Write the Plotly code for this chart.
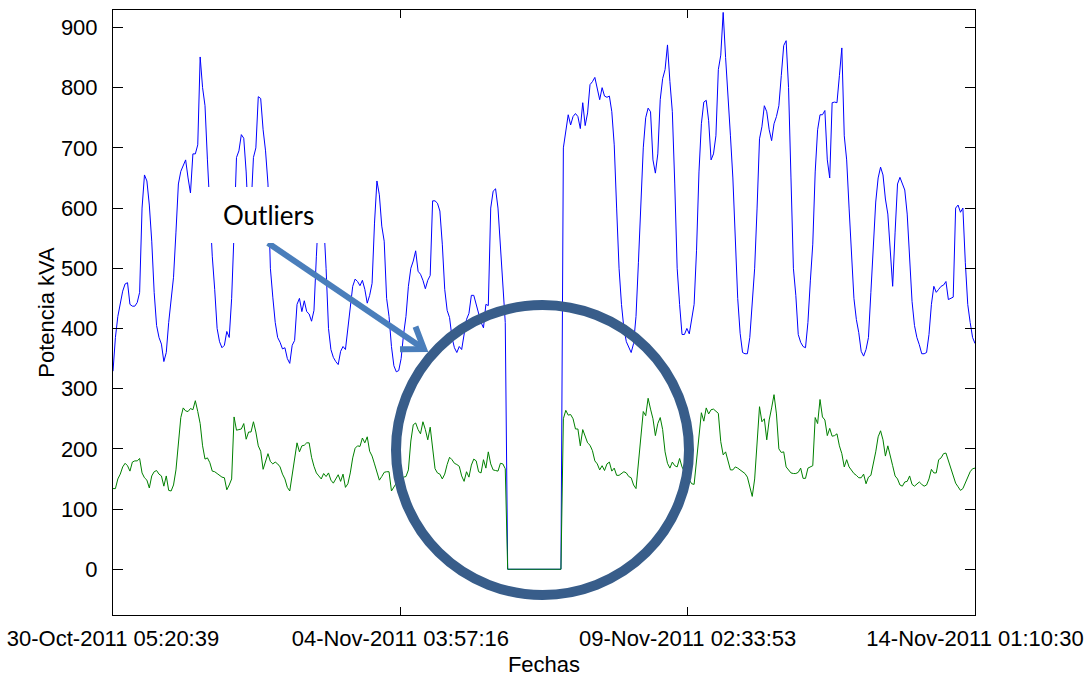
import math
import pandas as pd
import plotly.graph_objects as go

# Time span of the recording (hourly readings)
start_time = "2011-10-30 05:20:39"
end_time = "2011-11-14 01:10:30"

tick_times = ["2011-10-30 05:20:39", "2011-11-04 03:57:16",
              "2011-11-09 02:33:53", "2011-11-14 01:10:30"]
tick_labels = ["30-Oct-2011 05:20:39", "04-Nov-2011 03:57:16",
               "09-Nov-2011 02:33:53", "14-Nov-2011 01:10:30"]

y_ticks = [0, 100, 200, 300, 400, 500, 600, 700, 800, 900]

# Apparent power, blue feeder (kVA)
potencia_a = [
    329, 385, 420, 440, 462, 474, 476, 440, 437, 437,
    443, 460, 600, 655, 645, 605, 545, 460, 405, 385,
    374, 345, 360, 410, 445, 485, 560, 640, 661, 672,
    680, 650, 625, 690, 690, 705, 851, 800, 770, 680,
    590, 520, 465, 400, 378, 368, 372, 395, 385, 450,
    560, 684, 695, 722, 716, 660, 570, 600, 684, 700,
    785, 782, 730, 695, 640, 500, 452, 410, 385, 377,
    366, 368, 350, 342, 372, 380, 440, 450, 428, 446,
    428, 424, 412, 430, 520, 600, 615, 580, 500, 400,
    365, 352, 345, 340, 362, 370, 365, 400, 445, 470,
    482, 478, 471, 480, 465, 442, 455, 475, 575, 645,
    622, 570, 545, 450, 420, 370, 338, 328, 330, 350,
    390, 420, 470, 500, 512, 529, 495, 490, 480, 466,
    480, 488, 612, 612, 608, 595, 540, 465, 430, 418,
    385, 368, 360, 370, 365, 390, 415, 425, 455, 455,
    440, 425, 410, 401, 440, 438, 600, 628, 632, 600,
    530, 460, 410, 0, 0, 0, 0, 0, 0, 0,
    0, 0, 0, 0, 0, 0, 0, 0, 0, 0,
    0, 0, 0, 0, 0, 0, 700, 725, 755, 738,
    752, 757, 752, 732, 775, 737, 758, 805, 810, 817,
    800, 780, 800, 786, 784, 786, 760, 705, 600, 500,
    440, 400, 378, 368, 360, 375, 420, 510, 620, 700,
    750, 766, 760, 680, 658, 690, 780, 815, 830, 871,
    810, 760, 640, 500, 440, 390, 390, 400, 391, 420,
    440, 530, 660, 740, 776, 779, 745, 680, 690, 720,
    830, 854, 925, 850, 790, 720, 650, 540, 450, 392,
    360, 358, 358, 385, 440, 500, 600, 715, 735, 770,
    760, 730, 712, 740, 752, 770, 820, 870, 878, 800,
    650, 500, 455, 390, 377, 370, 368, 410, 479, 540,
    660, 730, 755, 755, 762, 680, 650, 775, 776, 775,
    820, 866, 720, 680, 600, 520, 450, 415, 393, 362,
    354, 365, 385, 460, 545, 610, 650, 668, 655, 615,
    590, 523, 470, 560, 640, 651, 640, 630, 590, 523,
    445, 405, 385, 373, 358, 358, 360, 390, 440, 470,
    460, 465, 470, 472, 478, 448, 450, 452, 600, 605,
    593, 600, 510, 440, 410, 385, 375,
]

# Apparent power, green feeder (kVA)
potencia_b = [
    134, 134, 150, 158, 170, 176, 172, 163, 178, 180,
    180, 184, 160, 152, 148, 135, 155, 162, 164, 158,
    155, 138, 155, 131, 130, 140, 165, 215, 252, 268,
    263, 262, 267, 265, 280, 262, 242, 205, 183, 185,
    177, 163, 162, 159, 156, 153, 152, 132, 140, 150,
    253, 231, 232, 233, 242, 216, 228, 228, 245, 228,
    205, 196, 166, 178, 192, 179, 175, 178, 175, 170,
    158, 150, 136, 130, 155, 178, 210, 195, 205, 206,
    210, 210, 186, 171, 160, 155, 150, 159, 154, 160,
    148, 143, 150, 157, 146, 158, 136, 142, 160, 185,
    201, 205, 204, 218, 210, 220, 196, 188, 175, 163,
    148, 154, 161, 162, 162, 130, 137, 143, 147, 150,
    153, 154, 165, 213, 240, 243, 232, 225, 245, 232,
    215, 236, 200, 167, 160, 158, 150, 158, 174, 186,
    182, 176, 174, 171, 155, 146, 162, 153, 173, 183,
    180, 162, 160, 182, 168, 195, 175, 165, 164, 163,
    176, 175, 167, 0, 0, 0, 0, 0, 0, 0,
    0, 0, 0, 0, 0, 0, 0, 0, 0, 0,
    0, 0, 0, 0, 0, 0, 250, 264, 256, 257,
    250, 233, 233, 205, 232, 222, 210, 206, 197, 180,
    175, 165, 172, 164, 175, 178, 163, 168, 156, 156,
    159, 162, 160, 154, 152, 140, 134, 180, 228, 262,
    255, 284, 266, 250, 222, 242, 252, 232, 195, 176,
    168, 178, 172, 170, 184, 170, 162, 156, 150, 142,
    141, 185, 225, 260, 246, 268, 258, 265, 266, 262,
    259, 212, 190, 195, 178, 165, 165, 170, 168, 165,
    162, 159, 153, 137, 121, 150, 210, 270, 245, 250,
    215, 248, 268, 290, 258, 200, 194, 195, 170, 164,
    160, 159, 159, 161, 168, 151, 151, 168, 170, 172,
    252, 242, 282, 253, 248, 222, 234, 221, 222, 225,
    205, 192, 170, 182, 170, 164, 159, 156, 152, 152,
    158, 142, 153, 156, 175, 195, 220, 230, 215, 188,
    205, 190, 172, 155, 150, 140, 138, 145, 146, 155,
    141, 138, 141, 145, 141, 138, 140, 150, 166, 160,
    160, 182, 185, 192, 193, 180, 168, 155, 143, 137,
    131, 134, 144, 153, 162, 167, 168,
]

assert len(potencia_a) == len(potencia_b)
fechas = pd.date_range(start_time, end_time, periods=len(potencia_a))

# Figure geometry (pixels)
W, H = 1087, 677
L, R, T, B = 113, 112, 10, 62
PW, PH = W - L - R, H - T - B


def fx(x):
    return (x - L) / PW


def fy(y):
    return (T + PH - y) / PH


fig = go.Figure()
fig.add_trace(go.Scatter(x=fechas, y=potencia_a, mode="lines",
                         line=dict(color="#0000FF", width=1)))
fig.add_trace(go.Scatter(x=fechas, y=potencia_b, mode="lines",
                         line=dict(color="#008000", width=1)))

font_main = "Liberation Sans, Arial, sans-serif"

fig.update_layout(
    width=W, height=H,
    margin=dict(l=L, r=R, t=T, b=B, autoexpand=False),
    paper_bgcolor="white", plot_bgcolor="white",
    showlegend=False,
    font=dict(family=font_main, size=22, color="black"),
    xaxis=dict(
        type="date", range=[start_time, end_time],
        tickmode="array", tickvals=tick_times, ticktext=tick_labels,
        ticks="inside", ticklen=8, tickwidth=1, tickcolor="black",
        showline=True, linecolor="black", linewidth=1, mirror="ticks",
        showgrid=False, zeroline=False,
        ticklabelstandoff=4,
        title=dict(text="Fechas", standoff=6, font=dict(size=22)),
    ),
    yaxis=dict(
        range=[-76, 929],
        tickmode="array", tickvals=y_ticks,
        ticks="inside", ticklen=10, tickwidth=1, tickcolor="black",
        showline=True, linecolor="black", linewidth=1, mirror="ticks",
        showgrid=False, zeroline=False,
        ticklabelstandoff=10,
        title=dict(text="Potencia kVA", standoff=0, font=dict(size=22)),
    ),
)

# Callout: arrow from the label towards the highlighted gap
ring_color = "#385D8A"
arrow_color = "#4A7EBB"
ax0, ay0 = 268, 243
ax1, ay1 = 424, 349
ang = math.atan2(ay1 - ay0, ax1 - ax0)
arm = 24
arms = []
for d in (math.radians(35), -math.radians(35)):
    a = ang + math.pi + d
    arms.append((ax1 + arm * math.cos(a), ay1 + arm * math.sin(a)))

shapes = [
    dict(type="line", xref="paper", yref="paper",
         x0=fx(ax0), y0=fy(ay0), x1=fx(ax1), y1=fy(ay1),
         line=dict(color=arrow_color, width=6), layer="above"),
    dict(type="path", xref="paper", yref="paper",
         path=(f"M {fx(arms[0][0])} {fy(arms[0][1])} "
               f"L {fx(ax1)} {fy(ay1)} "
               f"L {fx(arms[1][0])} {fy(arms[1][1])}"),
         line=dict(color=arrow_color, width=6), layer="above"),
    dict(type="rect", xref="paper", yref="paper",
         x0=fx(207), x1=fx(328), y0=fy(243), y1=fy(187),
         fillcolor="white", line=dict(width=0), layer="above"),
    dict(type="circle", xref="paper", yref="paper",
         x0=fx(396), x1=fx(689), y0=fy(595), y1=fy(305),
         line=dict(color=ring_color, width=10), layer="above"),
]
fig.update_layout(shapes=shapes)

fig.add_annotation(
    xref="paper", yref="paper", x=fx(268), y=fy(215),
    text="Outliers", showarrow=False,
    font=dict(family="Lato, Carlito, Open Sans, sans-serif", size=26, color="black"),
    xanchor="center", yanchor="middle",
)

fig.write_html("out.html")
